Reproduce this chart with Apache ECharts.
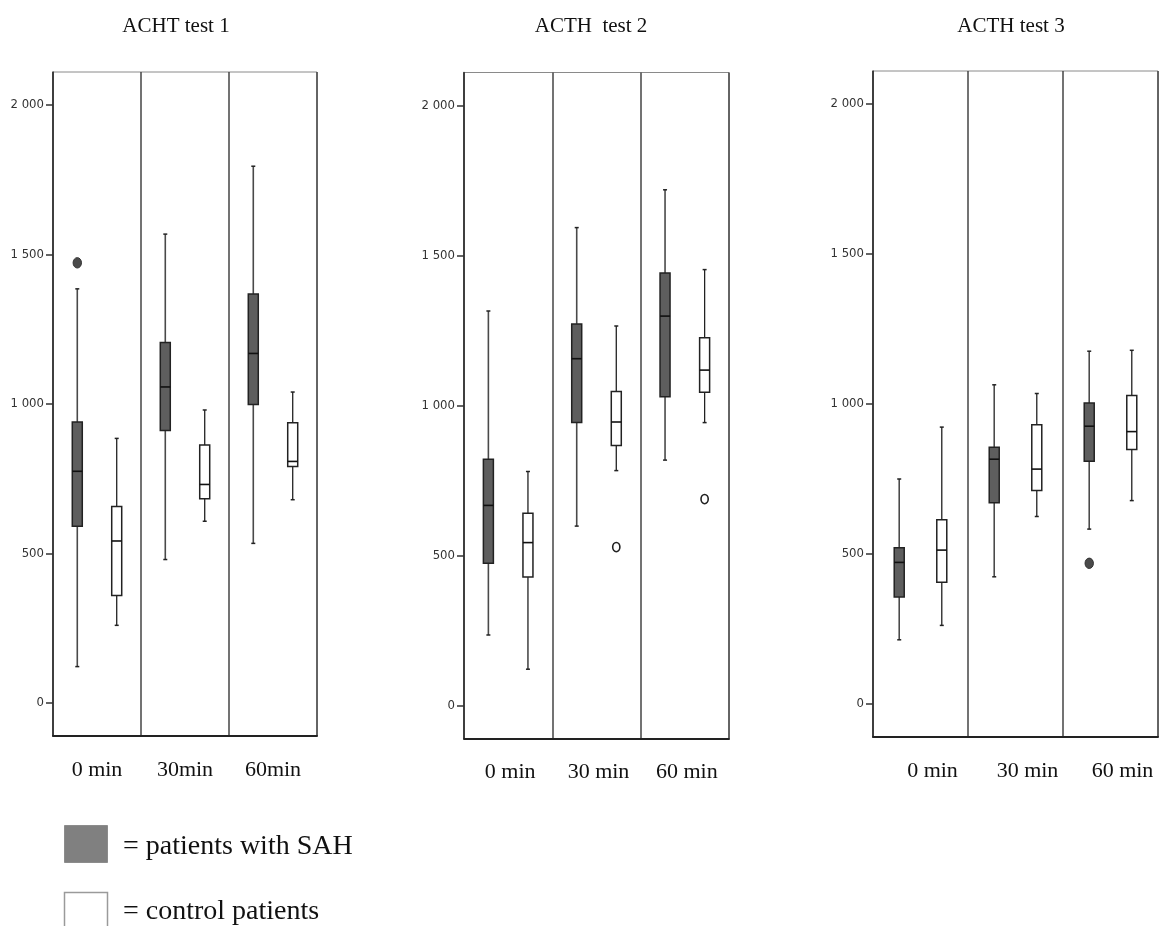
<!DOCTYPE html>
<html>
<head>
<meta charset="utf-8">
<script src="https://cdn.jsdelivr.net/npm/echarts@6/dist/echarts.min.js"></script>
<style>
html,body{margin:0;padding:0;background:#fff;}
#chart{width:1159px;height:926px;}
</style>
</head>
<body>
<div id="chart"></div>
<script>
// ---------- data ----------
const panelTitles = ['ACHT test 1', 'ACTH  test 2', 'ACTH test 3'];
const categories1 = ['0 min', '30min', '60min'];
const categories2 = ['0 min', '30 min', '60 min'];
const categories3 = ['0 min', '30 min', '60 min'];
const yTickValues = [0, 500, 1000, 1500, 2000];
const yTickLabels = ['0', '500', '1 000', '1 500', '2 000'];
const legendLabels = ['= patients with SAH', '= control patients'];

// [low whisker, Q1, median, Q3, high whisker]
const test1SAH     = [[122, 591, 775, 940, 1385], [480, 911, 1057, 1206, 1568], [534, 998, 1169, 1368, 1795]];
const test1Control = [[260, 360, 542, 657, 885], [608, 683, 731, 863, 980], [680, 791, 808, 937, 1040]];
const test1SAHOut = [[0, 1472]];
const test1ControlOut = [];

const test2SAH     = [[235, 474, 667, 821, 1315], [598, 943, 1156, 1272, 1593], [818, 1029, 1298, 1442, 1719]];
const test2Control = [[121, 428, 543, 641, 780], [783, 867, 945, 1047, 1265], [943, 1044, 1118, 1226, 1453]];
const test2SAHOut = [];
const test2ControlOut = [[1, 528], [2, 688]];

const test3SAH     = [[214, 357, 472, 521, 750], [424, 671, 816, 856, 1064], [583, 809, 926, 1003, 1176]];
const test3Control = [[262, 406, 513, 614, 923], [625, 712, 783, 931, 1035], [678, 848, 908, 1028, 1179]];
const test3SAHOut = [[2, 469]];
const test3ControlOut = [];

// ---------- styling / layout ----------
const SAH_FILL = '#5e5e5e';
const CTRL_FILL = '#ffffff';
const grids = [
  {left: 53, top: 72, width: 264, height: 664},
  {left: 464, top: 72.5, width: 265, height: 666},
  {left: 873, top: 71, width: 285, height: 666}
];
const titleX = [176, 591, 1011];
const labelPad = [[0, 0, 0, 0], [0, 0, 0, 4], [0, 0, 0, 24]];
const cats = [categories1, categories2, categories3];
const panels = [
  {sah: test1SAH, ctrl: test1Control, sahOut: test1SAHOut, ctrlOut: test1ControlOut},
  {sah: test2SAH, ctrl: test2Control, sahOut: test2SAHOut, ctrlOut: test2ControlOut},
  {sah: test3SAH, ctrl: test3Control, sahOut: test3SAHOut, ctrlOut: test3ControlOut}
];

const OFFSET_FRAC = 0.224;
const SERIF = '"Liberation Serif", "Times New Roman", serif';

function boxRender(side, fill, whiskerColor, whiskerWidth) {
  return function (params, api) {
    const cat = api.value(0);
    const bw = api.size([1, 0])[0];
    const cx = api.coord([cat, 0])[0] + side * bw * OFFSET_FRAC;
    const y = [1, 2, 3, 4, 5].map(function (i) { return api.coord([cat, api.value(i)])[1]; });
    const hw = 5, cap = 2;
    return {
      type: 'group',
      children: [
        {type: 'line', shape: {x1: cx, y1: y[4], x2: cx, y2: y[3]}, style: {stroke: whiskerColor, lineWidth: whiskerWidth}},
        {type: 'line', shape: {x1: cx, y1: y[1], x2: cx, y2: y[0]}, style: {stroke: whiskerColor, lineWidth: whiskerWidth}},
        {type: 'line', shape: {x1: cx - cap, y1: y[4], x2: cx + cap, y2: y[4]}, style: {stroke: '#222', lineWidth: 1.5}},
        {type: 'line', shape: {x1: cx - cap, y1: y[0], x2: cx + cap, y2: y[0]}, style: {stroke: '#222', lineWidth: 1.5}},
        {type: 'rect', shape: {x: cx - hw, y: y[3], width: 2 * hw, height: y[1] - y[3]}, style: {fill: fill, stroke: '#222', lineWidth: 1.5}},
        {type: 'line', shape: {x1: cx - hw, y1: y[2], x2: cx + hw, y2: y[2]}, style: {stroke: '#111', lineWidth: 1.6}}
      ]
    };
  };
}

function outRender(side, filled) {
  return function (params, api) {
    const cat = api.value(0);
    const bw = api.size([1, 0])[0];
    const p = api.coord([cat, api.value(1)]);
    const cx = p[0] + side * bw * OFFSET_FRAC;
    return {
      type: 'ellipse',
      shape: {cx: cx, cy: p[1], rx: filled ? 4.2 : 3.6, ry: filled ? 5.2 : 4.6},
      style: filled ? {fill: '#4a4a4a', stroke: '#333', lineWidth: 1} : {fill: '#fff', stroke: '#222', lineWidth: 1.6}
    };
  };
}

const gridOpts = [], xAxes = [], yAxes = [], series = [];
panels.forEach(function (pn, k) {
  gridOpts.push(Object.assign({show: true, borderColor: '#8a8a8a', borderWidth: 1, backgroundColor: 'transparent'}, grids[k]));
  xAxes.push({
    type: 'category', gridIndex: k, data: cats[k], boundaryGap: true,
    axisLine: {show: true, onZero: false, lineStyle: {color: '#222', width: 2}},
    axisTick: {show: false},
    splitLine: {show: true, lineStyle: {color: '#444', width: 1.5}},
    axisLabel: {
      fontFamily: SERIF, fontSize: 22, color: '#111',
      margin: 23, padding: labelPad[k], interval: 0
    }
  });
  yAxes.push({
    type: 'value', gridIndex: k, min: -110, max: 2110,
    axisLine: {show: true, onZero: false, lineStyle: {color: '#333', width: 1.5}},
    axisTick: {show: true, length: 7, lineStyle: {color: '#333', width: 1.5}, customValues: yTickValues},
    splitLine: {show: false},
    axisLabel: {
      customValues: yTickValues,
      formatter: function (v) { const i = yTickValues.indexOf(v); return i >= 0 ? yTickLabels[i] : ''; },
      fontFamily: '"DejaVu Sans Condensed", "Liberation Sans Narrow", "Arial Narrow", sans-serif',
      fontSize: 13, color: '#333', margin: 9
    }
  });
  series.push({
    name: 'patients with SAH', type: 'custom', coordinateSystem: 'cartesian2d',
    xAxisIndex: k, yAxisIndex: k, itemStyle: {color: SAH_FILL},
    encode: {x: 0, y: [1, 2, 3, 4, 5]},
    renderItem: boxRender(-1, SAH_FILL, '#4a4a4a', 1.6),
    data: pn.sah.map(function (v, i) { return [i].concat(v); })
  });
  series.push({
    name: 'control patients', type: 'custom', coordinateSystem: 'cartesian2d',
    xAxisIndex: k, yAxisIndex: k, itemStyle: {color: CTRL_FILL},
    encode: {x: 0, y: [1, 2, 3, 4, 5]},
    renderItem: boxRender(1, CTRL_FILL, '#222', 1.3),
    data: pn.ctrl.map(function (v, i) { return [i].concat(v); })
  });
  series.push({
    name: 'SAH outliers', type: 'custom', coordinateSystem: 'cartesian2d',
    xAxisIndex: k, yAxisIndex: k, encode: {x: 0, y: 1},
    renderItem: outRender(-1, true), data: pn.sahOut
  });
  series.push({
    name: 'control outliers', type: 'custom', coordinateSystem: 'cartesian2d',
    xAxisIndex: k, yAxisIndex: k, encode: {x: 0, y: 1},
    renderItem: outRender(1, false), data: pn.ctrlOut
  });
});

const graphics = panelTitles.map(function (t, k) {
  return {
    type: 'text', x: titleX[k], y: 26,
    style: {text: t, align: 'center', verticalAlign: 'middle', font: '21px ' + SERIF, fill: '#111'}
  };
});
// legend key
graphics.push({type: 'rect', shape: {x: 64.5, y: 825.5, width: 43, height: 37}, style: {fill: '#808080', stroke: '#8c8c8c', lineWidth: 1}});
graphics.push({type: 'text', x: 123, y: 847, style: {text: legendLabels[0], verticalAlign: 'middle', font: '28px ' + SERIF, fill: '#111'}});
graphics.push({type: 'rect', shape: {x: 64.5, y: 892.5, width: 43, height: 40}, style: {fill: '#ffffff', stroke: '#9a9a9a', lineWidth: 1.5}});
graphics.push({type: 'text', x: 123, y: 912, style: {text: legendLabels[1], verticalAlign: 'middle', font: '28px ' + SERIF, fill: '#111'}});

const option = {
  animation: false,
  backgroundColor: '#fff',
  grid: gridOpts,
  xAxis: xAxes,
  yAxis: yAxes,
  series: series,
  graphic: graphics
};

const chart = echarts.init(document.getElementById('chart'));
chart.setOption(option);
</script>
</body>
</html>
